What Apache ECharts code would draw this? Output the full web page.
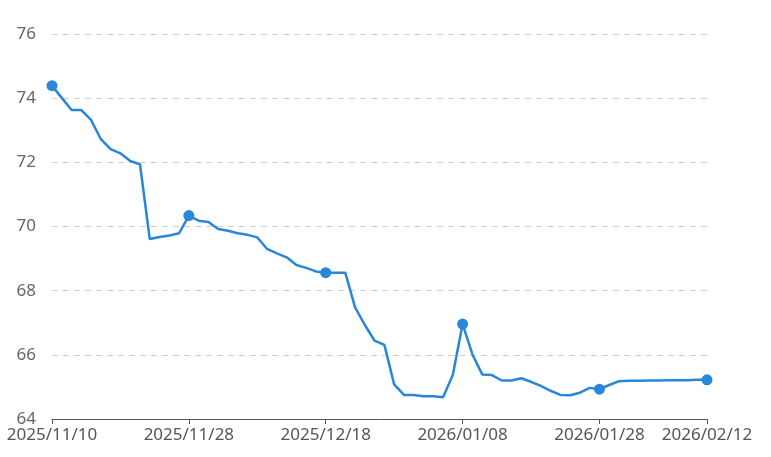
<!DOCTYPE html>
<html>
<head>
<meta charset="utf-8">
<script src="https://cdn.jsdelivr.net/npm/echarts@6/dist/echarts.min.js"></script>
<style>
  html, body { margin: 0; padding: 0; background: #fff; }
  #chart { width: 771px; height: 457px; }
</style>
</head>
<body>
<div id="chart"></div>
<script>
// 交易日
var dates = [
  '2025/11/10', '2025/11/11', '2025/11/12', '2025/11/13', '2025/11/14',
  '2025/11/17', '2025/11/18', '2025/11/19', '2025/11/20', '2025/11/21',
  '2025/11/24', '2025/11/25', '2025/11/26', '2025/11/27', '2025/11/28',
  '2025/12/01', '2025/12/02', '2025/12/03', '2025/12/04', '2025/12/05',
  '2025/12/08', '2025/12/09', '2025/12/10', '2025/12/11', '2025/12/12',
  '2025/12/15', '2025/12/16', '2025/12/17', '2025/12/18', '2025/12/19',
  '2025/12/22', '2025/12/23', '2025/12/24', '2025/12/25', '2025/12/26',
  '2025/12/29', '2025/12/30', '2025/12/31', '2026/01/02', '2026/01/05',
  '2026/01/06', '2026/01/07', '2026/01/08', '2026/01/09', '2026/01/12',
  '2026/01/13', '2026/01/14', '2026/01/15', '2026/01/16', '2026/01/19',
  '2026/01/20', '2026/01/21', '2026/01/22', '2026/01/23', '2026/01/26',
  '2026/01/27', '2026/01/28', '2026/01/29', '2026/01/30', '2026/02/02',
  '2026/02/03', '2026/02/04', '2026/02/05', '2026/02/06', '2026/02/09',
  '2026/02/10', '2026/02/11', '2026/02/12'
]

var values = [
  74.39, 74.01, 73.63, 73.63, 73.32, 72.72, 72.41, 72.28, 72.04, 71.94,
  69.61, 69.67, 69.72, 69.79, 70.34, 70.18, 70.14, 69.92, 69.87, 69.79,
  69.74, 69.66, 69.30, 69.16, 69.04, 68.80, 68.71, 68.60, 68.56, 68.56,
  68.56, 67.48, 66.93, 66.44, 66.31, 65.08, 64.75, 64.75, 64.71, 64.71,
  64.68, 65.37, 66.96, 66.02, 65.39, 65.37, 65.20, 65.20, 65.27, 65.16,
  65.03, 64.88, 64.75, 64.74, 64.82, 64.97, 64.93, 65.06, 65.18, 65.19,
  65.19, 65.20, 65.20, 65.21, 65.21, 65.21, 65.22, 65.22
]

var yTicks = [64, 66, 68, 70, 72, 74, 76]

// 每隔14个交易日显示一个标签，最后一天也显示
function showIdx(i) {
  return i % 14 === 0 || i === dates.length - 1
}

var lineColor = '#2a86d8'
var myChart = echarts.init(document.getElementById('chart'))
myChart.setOption({
  animation: false,
  grid: {
    left: 52,
    right: 64,
    top: 34,
    bottom: 38,
    containLabel: false
  },
  xAxis: {
    type: 'category',
    data: dates,
    boundaryGap: false,
    axisLine: {
      lineStyle: { color: '#555', width: 1 }
    },
    axisTick: {
      alignWithLabel: true,
      interval: function (i) { return showIdx(i) },
      length: 5,
      lineStyle: { color: '#555' }
    },
    axisLabel: {
      interval: function (i) { return showIdx(i) },
      color: '#555',
      fontSize: 17,
      fontFamily: 'Noto Sans',
      margin: 8
    }
  },
  yAxis: {
    type: 'value',
    min: yTicks[0],
    max: yTicks[yTicks.length - 1],
    interval: 2,
    axisLine: { show: false },
    axisTick: { show: false },
    axisLabel: {
      color: '#666',
      fontSize: 17,
      fontFamily: 'Noto Sans',
      margin: 16
    },
    // 坐标轴内线的样式
    splitLine: {
      lineStyle: {
        color: '#cfcfcf',
        type: [6, 5]
      }
    }
  },
  series: [
    {
      type: 'line',
      data: values,
      showAllSymbol: true,
      symbol: function (v, params) {
        return showIdx(params.dataIndex) ? 'circle' : 'none'
      },
      symbolSize: 11,
      itemStyle: { color: lineColor },
      lineStyle: { color: lineColor, width: 2.5 }
    }
  ]
})
</script>
</body>
</html>
